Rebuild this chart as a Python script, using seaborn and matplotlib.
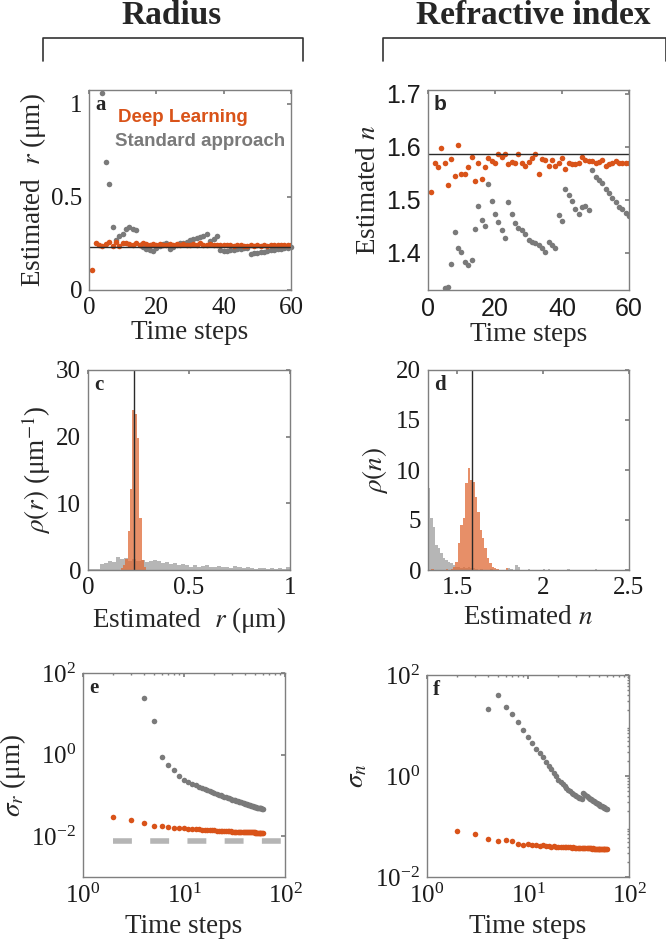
import numpy as np
import pandas as pd
import matplotlib
matplotlib.use("Agg")
import matplotlib.pyplot as plt
from matplotlib.lines import Line2D
import seaborn as sns

nan = np.nan

# time steps
steps = list(range(1, 61))

# panel a: estimated radius (um)
dl_radius = [0.11, 0.25, 0.24, 0.235, 0.245, 0.26, 0.235, 0.26, 0.235, 0.255,
             0.25, 0.245, 0.24, 0.255, 0.24, 0.25, 0.245, 0.24, 0.245, 0.24,
             0.245, 0.24, 0.24, 0.245, 0.24, 0.245, 0.24, 0.245, 0.24, 0.24,
             0.245, 0.24, 0.25, 0.24, 0.24, 0.245, 0.24, 0.24, 0.24, 0.24,
             0.24, 0.24, 0.238, 0.24, 0.24, 0.238, 0.238, 0.24, 0.238, 0.24,
             0.238, 0.24, 0.238, 0.24, 0.24, 0.24, 0.24, 0.24, 0.24, 0.24]
std_radius = [nan, nan, nan, 1.06, 0.69, 0.57, 0.34, 0.27, 0.29, 0.30,
              0.33, 0.34, 0.33, 0.32, 0.24, 0.23, 0.22, 0.215, 0.21, 0.225,
              0.235, 0.245, 0.255, 0.22, 0.23, 0.24, 0.25, 0.255, 0.26, 0.27,
              0.275, 0.28, 0.285, 0.29, 0.30, 0.265, 0.275, 0.29, 0.215, 0.21,
              0.21, 0.215, 0.215, 0.22, 0.22, 0.225, 0.225, 0.195, 0.198, 0.20,
              0.203, 0.206, 0.21, 0.213, 0.216, 0.219, 0.222, 0.225, 0.228, 0.23]
true_radius = 0.23

# panel b: estimated refractive index
dl_index = [1.514, 1.570, 1.561, 1.597, 1.569, 1.528, 1.577, 1.545, 1.603, 1.548,
            1.548, 1.561, 1.581, 1.536, 1.570, 1.540, 1.561, 1.579, 1.574, 1.569,
            1.587, 1.581, 1.586, 1.568, 1.572, 1.569, 1.586, 1.569, 1.563, 1.572,
            1.579, 1.586, 1.549, 1.577, 1.575, 1.564, 1.575, 1.564, 1.569, 1.579,
            1.558, 1.569, 1.567, 1.567, 1.570, 1.580, 1.575, 1.574, 1.574, 1.569,
            1.572, 1.575, 1.563, 1.567, 1.570, 1.573, 1.570, 1.569, 1.569, 1.569]
std_index = [nan, nan, nan, 1.325, 1.333, 1.336, 1.379, 1.439, 1.409, 1.401,
             1.382, 1.377, 1.386, 1.445, 1.489, 1.462, 1.451, 1.530, 1.498, 1.474,
             1.458, 1.443, 1.428, 1.496, 1.474, 1.456, 1.447, 1.443, 1.436, 1.425,
             1.421, 1.419, 1.415, 1.409, 1.401, 1.421, 1.415, 1.409, 1.472, 1.460,
             1.521, 1.509, 1.497, 1.482, 1.473, 1.486, 1.489, 1.481, 1.557, 1.543,
             1.538, 1.531, 1.521, 1.513, 1.503, 1.495, 1.486, 1.482, 1.476, 1.470]
true_index = 1.586

# panel c: histograms of radius (density, um^-1)
hist_r_gray_start, hist_r_gray_width = 0.0, 0.02
hist_r_gray = [0.1, 0.2, 0.15, 0.9, 1.1, 1.3, 1.2, 1.9, 1.7, 1.8,
               1.4, 1.6, 1.3, 1.5, 1.2, 1.4, 1.5, 1.3, 1.0, 1.2,
               0.9, 1.0, 0.8, 0.9, 0.7, 0.5, 0.8, 0.5, 0.6, 0.7,
               0.5, 0.4, 0.6, 0.4, 0.5, 0.3, 0.6, 0.4, 0.3, 0.4,
               0.3, 0.2, 0.3, 0.25, 0.2, 0.3, 0.2, 0.3, 0.2, 0.5]
hist_r_dl_start, hist_r_dl_width = 0.162, 0.0115
hist_r_dl = [0.3, 0.8, 1.6, 5.8, 12.2, 24.0, 23.4, 19.8, 7.8, 1.5, 0.4]

# panel d: histograms of refractive index
hist_n_gray_start, hist_n_gray_width = 1.33, 0.0145
hist_n_gray = [8.2, 5.2, 4.3, 2.5, 2.2, 1.7, 1.2, 1.0, 0.8, 0.7,
               0.5, 0.35, 0.3, 0.25, 0.3, 0.2, 0.3, 0.25, 0.2, 0.15,
               0, 0.1, 0, 0, 0, 0.1, 0, 0, 0, 0,
               0, 0, 0.25, 0.15, 0, 0.5, 0.3, 0, 0, 0,
               0.1, 0, 0, 0, 0, 0, 0.15, 0, 0.1, 0,
               0, 0, 0, 0, 0, 0, 0.1, 0, 0, 0,
               0, 0, 0, 0, 0, 0, 0, 0.1, 0, 0,
               0, 0, 0, 0]
hist_n_dl_start, hist_n_dl_width = 1.336, 0.014
hist_n_dl = [0, 0.15, 0, 0, 0, 0, 0, 0.15, 0, 0.1,
             0.3, 0.8, 2.7, 4.5, 5.2, 8.7, 10.2, 9.0, 8.8, 7.3,
             5.8, 4.0, 3.2, 2.2, 1.2, 0.7, 0.3, 0.15, 0.1, 0,
             0, 0, 0.15, 0]

# panel e: sigma_r (um)
dl_sigma_r = [nan, 0.029, 0.025, 0.021, 0.0175, 0.018, 0.0165, 0.016, 0.0158, 0.0155,
              0.0153, 0.015, 0.0148, 0.0146, 0.0145, 0.0143, 0.0142, 0.014, 0.0139, 0.0138,
              0.0137, 0.0136, 0.0135, 0.0134, 0.0134, 0.0133, 0.0132, 0.0131, 0.0131, 0.013,
              0.013, 0.0129, 0.0129, 0.0128, 0.0128, 0.0127, 0.0127, 0.0127, 0.0126, 0.0126,
              0.0126, 0.0125, 0.0125, 0.0125, 0.0125, 0.0124, 0.0124, 0.0124, 0.0124, 0.0124,
              0.0123, 0.0123, 0.0123, 0.0123, 0.0123, 0.0123, 0.0123, 0.0123, 0.0123, 0.0123]
std_sigma_r = [nan, nan, nan, 24, 6.5, 0.85, 0.56, 0.41, 0.30, 0.24,
               0.21, 0.19, 0.175, 0.16, 0.15, 0.14, 0.133, 0.126, 0.12, 0.114,
               0.109, 0.104, 0.10, 0.096, 0.093, 0.09, 0.087, 0.084, 0.082, 0.079,
               0.077, 0.075, 0.073, 0.071, 0.07, 0.068, 0.067, 0.065, 0.064, 0.063,
               0.062, 0.06, 0.059, 0.058, 0.057, 0.056, 0.055, 0.054, 0.053, 0.053,
               0.052, 0.051, 0.05, 0.05, 0.049, 0.049, 0.048, 0.048, 0.047, 0.047]
bound_steps = [2, 100]
bound_sigma_r = [0.0076, 0.0076]

# panel f: sigma_n
dl_sigma_n = [nan, 0.083, 0.071, 0.056, 0.052, 0.053, 0.052, 0.045, 0.044, 0.045,
              0.043, 0.044, 0.042, 0.043, 0.041, 0.042, 0.040, 0.041, 0.040, 0.040,
              0.040, 0.039, 0.040, 0.039, 0.039, 0.039, 0.038, 0.039, 0.038, 0.038,
              0.038, 0.038, 0.037, 0.038, 0.037, 0.037, 0.037, 0.037, 0.037, 0.037,
              0.037, 0.037, 0.036, 0.037, 0.036, 0.036, 0.036, 0.036, 0.036, 0.036,
              0.036, 0.036, 0.036, 0.036, 0.036, 0.036, 0.036, 0.036, 0.036, 0.036]
std_sigma_n = [nan, nan, nan, 21, 40, 23, 17, 12, 8.1, 6.0,
               4.6, 3.5, 2.9, 2.35, 1.9, 1.6, 1.35, 1.15, 0.98, 0.85,
               0.76, 0.69, 0.63, 0.58, 0.54, 0.5, 0.47, 0.45, 0.43, 0.41,
               0.39, 0.375, 0.36, 0.35, 0.46, 0.45, 0.43, 0.41, 0.39, 0.37,
               0.355, 0.345, 0.335, 0.325, 0.315, 0.305, 0.295, 0.29, 0.28, 0.275,
               0.268, 0.26, 0.255, 0.25, 0.245, 0.24, 0.235, 0.23, 0.225, 0.22]

ORANGE = "#D95319"
GRAY = "#7A7A7A"
HIST_ORANGE = "#E06A35"
HIST_GRAY = "#A9A9A9"
FRAME = "#7F7F7F"

sns.set_theme(style="white")
plt.rcParams["font.family"] = ["Liberation Serif", "DejaVu Serif"]
plt.rcParams["mathtext.fontset"] = "stix"
plt.rcParams["axes.unicode_minus"] = False

W, H = 666, 946
fig = plt.figure(figsize=(W / 100, H / 100), dpi=100)


def add_axes(left, right, top, bottom):
    return fig.add_axes([left / W, 1 - bottom / H, (right - left) / W, (bottom - top) / H])


def style(ax, fs=18, lfs=19.5):
    for sp in ax.spines.values():
        sp.set_color(FRAME)
        sp.set_linewidth(1.0)
    ax.tick_params(which="both", direction="in", top=True, right=True,
                   color=FRAME, labelsize=fs, pad=5, labelcolor="#1a1a1a")
    ax.tick_params(which="major", length=3)
    ax.tick_params(which="minor", length=1.5)
    ax.xaxis.label.set_size(lfs)
    ax.yaxis.label.set_size(lfs)


def hist(ax, start, width, heights, color, alpha):
    edges = [start + width * i for i in range(len(heights) + 1)]
    df = pd.DataFrame({"x": [e + width / 2 for e in edges[:-1]], "w": heights})
    sns.histplot(data=df, x="x", weights="w", bins=edges, ax=ax, color=color,
                 alpha=alpha, linewidth=0, element="bars", stat="count")


def letter(ax, s, family="Liberation Serif"):
    ax.text(0.03, 0.975, s, transform=ax.transAxes, ha="left", va="top",
            fontsize=15, fontweight="bold", family=family)


# headers and brackets
fig.text(172 / W, 1 - 16 / H, "Radius", ha="center", va="center",
         fontsize=24, fontweight="bold")
fig.text(533 / W, 1 - 16 / H, "Refractive index", ha="center", va="center",
         fontsize=24, fontweight="bold")
for x0, x1 in [(43, 303), (383, 665.5)]:
    xs = [x0 / W, x0 / W, x1 / W, x1 / W]
    ys = [1 - 61 / H, 1 - 38 / H, 1 - 38 / H, 1 - 61 / H]
    fig.add_artist(Line2D(xs, ys, color="#333333", lw=1.2))

# a
ax = add_axes(89, 291, 90, 290)
sns.scatterplot(x=steps, y=std_radius, color=GRAY, s=16, linewidth=0, ax=ax, clip_on=False)
sns.scatterplot(x=steps, y=dl_radius, color=ORANGE, s=16, linewidth=0, ax=ax)
ax.axhline(true_radius, color="#2a2a2a", lw=1.0, zorder=1)
ax.set_xlim(0, 60)
ax.set_ylim(0, 1.075)
ax.set_xticks([0, 20, 40, 60])
ax.set_yticks([0, 0.5, 1])
ax.set_yticklabels(["0", "0.5", "1"])
ax.set_xlabel("Time steps", labelpad=1)
ax.set_ylabel("Estimated  $r$ (μm)", labelpad=2)
style(ax)
letter(ax, "a")
ax.text(0.145, 0.86, "Deep Learning", transform=ax.transAxes, color=ORANGE,
        fontsize=13.5, fontweight="bold", family="Liberation Sans", va="center")
ax.text(0.13, 0.74, "Standard approach", transform=ax.transAxes, color=GRAY,
        fontsize=13.5, fontweight="bold", family="Liberation Sans", va="center")

# b
ax = add_axes(428, 629, 90, 290)
sns.scatterplot(x=steps, y=std_index, color=GRAY, s=16, linewidth=0, ax=ax)
sns.scatterplot(x=steps, y=dl_index, color=ORANGE, s=16, linewidth=0, ax=ax)
ax.axhline(true_index, color="#2a2a2a", lw=1.0, zorder=1)
ax.set_xlim(0, 60)
ax.set_ylim(1.33, 1.707)
ax.set_xticks([0, 20, 40, 60])
ax.set_yticks([1.4, 1.5, 1.6, 1.7])
ax.set_xlabel("Time steps", labelpad=1)
ax.set_ylabel("Estimated $n$", labelpad=4)
style(ax)
for lab in ax.get_xticklabels() + ax.get_yticklabels():
    lab.set_family("Liberation Sans")
letter(ax, "b", family="Liberation Sans")

# c
ax = add_axes(88, 290, 370, 570)
hist(ax, hist_r_gray_start, hist_r_gray_width, hist_r_gray, HIST_GRAY, 0.85)
hist(ax, hist_r_dl_start, hist_r_dl_width, hist_r_dl, HIST_ORANGE, 0.75)
ax.axvline(true_radius, color="#2a2a2a", lw=1.0)
ax.set_xlim(0, 1)
ax.set_ylim(0, 30)
ax.set_xticks([0, 0.5, 1])
ax.set_xticklabels(["0", "0.5", "1"])
ax.set_yticks([0, 10, 20, 30])
ax.set_xlabel("Estimated  $r$ (μm)")
ax.set_ylabel("$\\rho(r)$ (μm$^{-1}$)", labelpad=2)
style(ax)
letter(ax, "c")

# d
ax = add_axes(428, 629, 370, 570)
hist(ax, hist_n_gray_start, hist_n_gray_width, hist_n_gray, HIST_GRAY, 0.85)
hist(ax, hist_n_dl_start, hist_n_dl_width, hist_n_dl, HIST_ORANGE, 0.75)
ax.axvline(true_index, color="#2a2a2a", lw=1.0)
ax.set_xlim(1.33, 2.5)
ax.set_ylim(0, 20)
ax.set_xticks([1.5, 2, 2.5])
ax.set_xticklabels(["1.5", "2", "2.5"])
ax.set_yticks([0, 5, 10, 15, 20])
ax.set_xlabel("Estimated $n$")
ax.set_ylabel("$\\rho(n)$")
style(ax)
letter(ax, "d")

# e
ax = add_axes(83, 285, 673, 877)
sns.scatterplot(x=steps, y=std_sigma_r, color=GRAY, s=16, linewidth=0, ax=ax)
sns.scatterplot(x=steps, y=dl_sigma_r, color=ORANGE, s=16, linewidth=0, ax=ax)
sns.lineplot(x=bound_steps, y=bound_sigma_r, color="#B5B5B5", lw=4, ax=ax)
ax.lines[-1].set_linestyle((0, (3.4, 3.3)))
ax.set_xscale("log")
ax.set_yscale("log")
ax.set_xlim(1, 100)
ax.set_ylim(1e-3, 1e2)
ax.set_xticks([1, 10, 100])
ax.set_yticks([1e-2, 1, 1e2])
ax.set_xlabel("Time steps")
ax.set_ylabel("$\\sigma_r$ (μm)", labelpad=2)
style(ax)
letter(ax, "e")

# f
ax = add_axes(427, 629, 675, 877)
sns.scatterplot(x=steps, y=std_sigma_n, color=GRAY, s=16, linewidth=0, ax=ax)
sns.scatterplot(x=steps, y=dl_sigma_n, color=ORANGE, s=16, linewidth=0, ax=ax)
ax.set_xscale("log")
ax.set_yscale("log")
ax.set_xlim(1, 100)
ax.set_ylim(1e-2, 1e2)
ax.set_xticks([1, 10, 100])
ax.set_yticks([1e-2, 1, 1e2])
ax.set_xlabel("Time steps")
ax.set_ylabel("$\\sigma_n$")
style(ax)
letter(ax, "f")

fig.savefig("out.png", dpi=100)
